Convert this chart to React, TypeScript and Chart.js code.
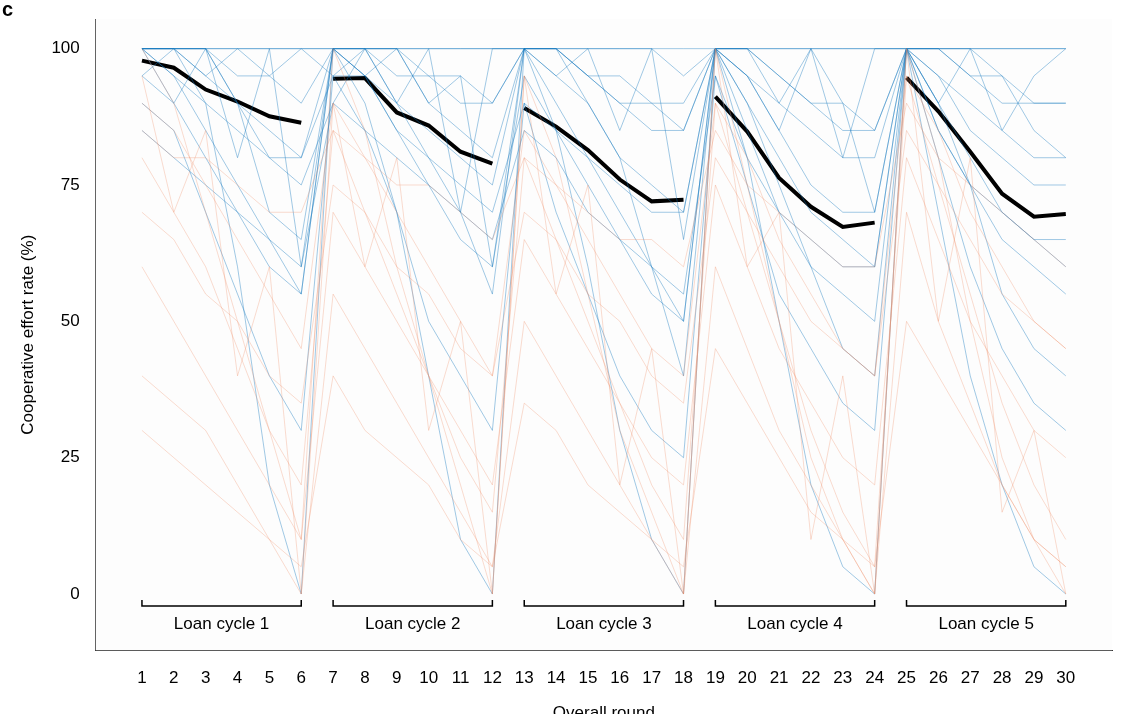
import React, { useEffect, useRef } from "react";
import { Chart, registerables } from "chart.js";
Chart.register(...registerables);

const rounds = Array.from({ length: 30 }, (_, i) => i + 1);
const cycleLabels = ["Loan cycle 1", "Loan cycle 2", "Loan cycle 3", "Loan cycle 4", "Loan cycle 5"];
const yTicks = [0, 25, 50, 75, 100];
const meanLine = [
  [97.8, 96.5, 92.5, 90.3, 87.6, 86.4],
  [94.5, 94.6, 88.3, 85.9, 81.1, 78.9],
  [89.1, 85.7, 81.4, 76.0, 72.0, 72.3],
  [91.2, 84.8, 76.3, 71.0, 67.3, 68.1],
  [94.7, 88.5, 81.1, 73.4, 69.2, 69.7],
];
const blueLines = [
  [100,100,100,100,100,100,100,100,100,100,100,100,100,100,100,100,100,100,100,100,100,100,100,100,100,100,100,100,100,100],
  [100,100,95,90,85,80,100,100,90,85,80,75,100,95,90,80,75,70,100,90,80,70,65,60,100,90,80,70,65,60],
  [95,90,80,70,60,55,100,95,85,75,65,60,95,85,75,65,55,50,100,85,70,60,55,50,100,85,75,65,60,55],
  [100,100,100,95,95,90,100,100,100,95,90,90,100,100,95,90,85,85,100,95,90,85,80,80,100,95,90,85,80,80],
  [90,85,70,55,40,30,95,85,70,50,40,30,90,70,55,40,30,25,95,75,55,45,35,30,100,80,60,45,35,30],
  [100,95,90,60,20,0,100,90,70,40,10,0,100,85,60,30,10,0,100,80,50,20,5,0,100,70,40,20,5,0],
  [100,100,90,85,80,75,90,100,100,90,85,80,100,100,95,90,90,85,100,100,95,90,85,85,100,100,95,95,90,90],
  [85,80,75,70,65,60,90,85,80,75,70,65,85,80,70,65,60,55,95,80,70,65,60,60,100,85,75,70,65,65],
  [100,100,100,100,100,100,95,100,100,100,100,100,100,100,100,100,100,95,100,100,100,100,100,100,100,100,100,100,100,100],
  [100,95,85,75,65,55,100,95,90,80,70,55,100,90,80,70,60,50,100,90,75,60,45,40,100,90,75,55,45,40],
  [95,100,100,90,80,80,95,95,85,80,75,70,90,85,80,75,70,70,100,95,85,75,70,70,100,95,85,80,75,75],
  [100,100,95,100,95,100,100,100,95,95,95,90,100,100,95,95,90,90,100,100,95,90,90,85,100,100,95,90,90,90],
  [100,90,100,80,100,60,100,100,90,100,70,100,100,95,100,85,100,65,100,100,90,100,80,100,100,90,100,85,95,100],
  [100,100,100,90,70,65,100,95,100,90,95,60,100,100,90,80,60,40,100,95,85,100,90,70,100,100,100,95,85,80],
];
const orangeLines = [
  [80,70,60,45,30,20,85,70,55,40,25,15,80,65,50,35,20,10,90,70,50,30,15,5,95,75,55,35,20,10],
  [60,50,40,30,20,10,70,60,50,40,30,20,65,55,45,35,25,20,75,60,45,35,25,20,80,65,50,40,30,25],
  [40,35,30,20,10,0,55,45,35,25,15,5,50,40,30,20,10,0,60,45,30,20,10,0,70,50,35,20,10,5],
  [90,85,75,65,55,45,90,80,70,60,50,40,85,75,65,55,45,40,90,80,65,55,45,40,95,85,70,60,50,45],
  [70,65,55,50,40,35,75,70,60,55,45,40,70,65,55,50,40,35,80,70,60,50,45,40,85,75,65,55,50,45],
  [100,90,70,50,30,10,100,85,60,40,20,0,95,80,55,30,15,0,100,75,50,25,10,0,100,80,50,25,10,0],
  [30,25,20,15,10,5,40,30,25,20,10,5,35,30,20,15,10,5,45,35,25,15,10,5,50,40,30,20,10,5],
  [85,80,80,75,70,70,85,80,75,75,70,65,80,75,70,65,65,60,85,75,70,65,60,60,90,80,75,70,65,60],
  [95,70,85,40,60,0,90,60,80,30,50,0,95,55,75,20,45,0,100,60,70,10,40,0,100,50,80,15,30,0],
];

const FONT = "'Liberation Sans', Arial, sans-serif";

export default function App() {
  const ref = useRef<HTMLCanvasElement>(null);
  useEffect(() => {
    document.body.style.margin = "0";
    const toPts = (arr: number[]) => arr.map((v, i) => ({ x: rounds[i], y: v }));
    const datasets: any[] = [];
    orangeLines.forEach((l) =>
      datasets.push({ data: toPts(l), borderColor: "rgba(240,140,100,0.3)", borderWidth: 1, pointRadius: 0 })
    );
    blueLines.forEach((l) =>
      datasets.push({ data: toPts(l), borderColor: "rgba(20,120,190,0.4)", borderWidth: 1, pointRadius: 0 })
    );
    meanLine.forEach((seg, c) =>
      datasets.push({
        data: seg.map((v, i) => ({ x: rounds[c * 6 + i], y: v })),
        borderColor: "#000", borderWidth: 4, pointRadius: 0,
      })
    );
    const deco = {
      id: "deco",
      beforeDatasetsDraw(chart: any) {
        const { ctx, chartArea: a } = chart;
        ctx.save();
        ctx.fillStyle = "#fdfdfd";
        ctx.fillRect(a.left, a.top, a.right - a.left, a.bottom - a.top);
        ctx.restore();
      },
      afterDatasetsDraw(chart: any) {
        const { ctx, scales } = chart;
        const xs = scales.x, ys = scales.y;
        ctx.save();
        ctx.strokeStyle = "#000";
        ctx.lineWidth = 1.5;
        ctx.fillStyle = "#000";
        ctx.font = `17px ${FONT}`;
        ctx.textAlign = "center";
        ctx.textBaseline = "middle";
        cycleLabels.forEach((lab, c) => {
          const x0 = xs.getPixelForValue(c * 6 + 1), x1 = xs.getPixelForValue(c * 6 + 6);
          const yb = ys.getPixelForValue(-2.2);
          ctx.beginPath();
          ctx.moveTo(x0, yb - 6); ctx.lineTo(x0, yb); ctx.lineTo(x1, yb); ctx.lineTo(x1, yb - 6);
          ctx.stroke();
          ctx.fillText(lab, (x0 + x1) / 2, ys.getPixelForValue(-5.5));
        });
        ctx.font = `bold 20px ${FONT}`;
        ctx.textAlign = "left";
        ctx.fillText("c", 2, 10);
        ctx.restore();
      },
    };
    const chart = new Chart(ref.current!, {
      type: "line",
      data: { datasets },
      plugins: [deco],
      options: {
        animation: false,
        responsive: false,
        layout: { padding: { left: 14, top: 15, right: 18, bottom: 0 } },
        plugins: { legend: { display: false }, tooltip: { enabled: false } },
        scales: {
          x: {
            type: "linear", min: -0.45, max: 31.45,
            afterBuildTicks: (s: any) => { s.ticks = rounds.map((v) => ({ value: v })); },
            grid: { display: false, drawTicks: true, tickLength: 7 },
            border: { color: "#333" },
            ticks: { color: "#000", font: { family: FONT, size: 17 }, autoSkip: false, maxRotation: 0, padding: 11 },
            title: { display: true, text: "Overall round", color: "#000", font: { family: FONT, size: 17 } },
          },
          y: {
            type: "linear", min: -10.3, max: 105.4,
            afterBuildTicks: (s: any) => { s.ticks = yTicks.map((v) => ({ value: v })); },
            grid: { display: false, drawTicks: true, tickLength: 7 },
            border: { color: "#333" },
            ticks: { color: "#000", font: { family: FONT, size: 17 }, padding: 9 },
            title: { display: true, text: "Cooperative effort rate (%)", color: "#000", font: { family: FONT, size: 17 } },
          },
        },
      },
    });
    return () => chart.destroy();
  }, []);
  return (
    <div style={{ width: 1130, height: 714, overflow: "hidden", background: "#fff" }}>
      <canvas ref={ref} width={1130} height={728} />
    </div>
  );
}
